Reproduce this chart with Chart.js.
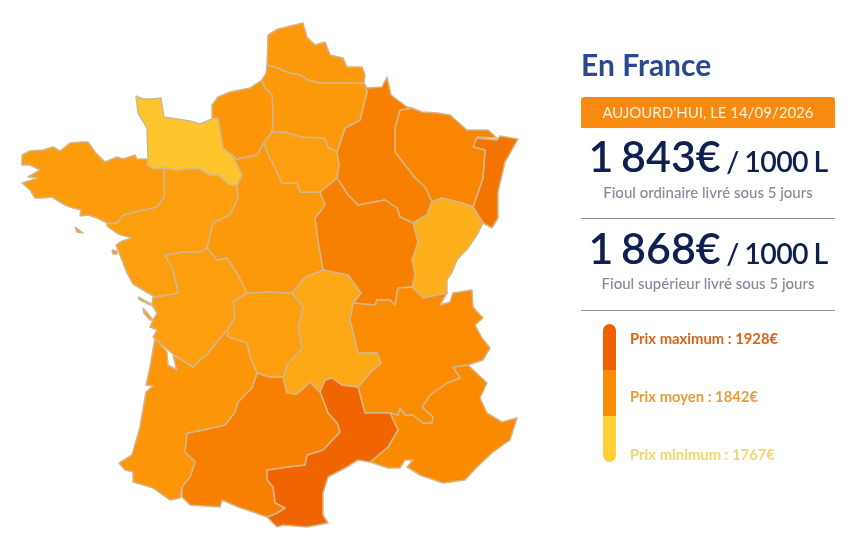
<!DOCTYPE html>
<html lang="fr">
<head>
<meta charset="utf-8">
<title>Prix du fioul en France</title>
<script src="https://cdn.jsdelivr.net/npm/chart.js@4"></script>
<style>
  body { margin: 0; background: #fff; font-family: Lato, sans-serif; }
  #wrap { position: relative; width: 865px; height: 550px; overflow: hidden; }
  #map { position: absolute; left: 0; top: 0; }
  .abs { position: absolute; white-space: nowrap; }
  .title { left: 581px; top: 46px; font-size: 30px; line-height: 36px; font-weight: 700; color: #2b4a8e; }
  .today { left: 581px; top: 97px; width: 254px; height: 31px; line-height: 31px; border-radius: 3px 3px 0 0;
           background: #f98a11; color: #fff3df; font-size: 15px; text-align: center; }
  .price { left: 581px; width: 254px; text-align: center; color: #0e1f50; font-size: 28.5px; line-height: 44px;
           font-weight: 600; letter-spacing: -0.6px; word-spacing: -1px; }
  .price b { font-size: 43px; font-weight: 600; letter-spacing: 0; word-spacing: -3px; }
  .sub { left: 581px; width: 254px; text-align: center; color: #858a99; font-size: 15px; line-height: 18px; font-weight: 500; }
  .rule { left: 581px; width: 254px; height: 1px; background: #8c8c8c; }
  .gauge { left: 603px; top: 324px; width: 13px; height: 138px; border-radius: 7px; overflow: hidden; }
  .gauge div { height: 46px; }
  .key { left: 630px; font-size: 14.8px; line-height: 18px; font-weight: 700; }
</style>
</head>
<body>
<div id="wrap">
  <canvas id="map" width="865" height="550"></canvas>
  <div class="abs title">En France</div>
  <div class="abs today" id="today"></div>
  <div class="abs price" id="price0" style="top:134px"></div>
  <div class="abs sub" id="sub0" style="top:183px"></div>
  <div class="abs rule" style="top:218px"></div>
  <div class="abs price" id="price1" style="top:226px"></div>
  <div class="abs sub" id="sub1" style="top:274px"></div>
  <div class="abs rule" style="top:310px"></div>
  <div class="abs gauge" id="gauge"></div>
  <div class="abs key" id="key0" style="top:329px"></div>
  <div class="abs key" id="key1" style="top:387px"></div>
  <div class="abs key" id="key2" style="top:445px"></div>
</div>
<script>
// prices
const todayLabel = "AUJOURD'HUI, LE 14/09/2026";
const fuelPrices = ["1 843€", "1 868€"];
const fuelLabels = ["Fioul ordinaire livré sous 5 jours", "Fioul supérieur livré sous 5 jours"];
const keyLabels = ["Prix maximum", "Prix moyen", "Prix minimum"];
const keyPrices = [1928, 1842, 1767];
const keyColors = ["#ee6000", "#fb8c00", "#ffd035"];
const keyTextColors = ["#d8641c", "#e89c38", "#f5d868"];

const regionNames = ["Bretagne", "Basse-Normandie", "Haute-Normandie", "Nord-Pas-de-Calais", "Picardie",
  "Île-de-France", "Centre", "Pays de la Loire", "Poitou-Charentes", "Aquitaine", "Limousin", "Auvergne",
  "Midi-Pyrénées", "Languedoc-Roussillon", "Rhône-Alpes", "PACA", "Bourgogne", "Franche-Comté",
  "Champagne-Ardenne", "Lorraine", "Alsace", "Belle-Île", "Noirmoutier", "Île de Ré", "Oléron"];

// estimated from the fill colours
const regionPrices = [1826, 1780, 1832, 1828, 1828, 1822, 1828, 1822, 1822, 1832, 1822, 1810,
  1865, 1918, 1843, 1846, 1866, 1802, 1866, 1856, 1888, 1826, 1822, 1822, 1822];

// outlines in map units
const bretagne = [[22,155],[30,151],[43,150],[53,147],[60,151],[70,143],[82,142],[88,142],[95,152],[105,162],[117,157],[123,159],[135,155],[137,159],[148,159],[147,165],[153,169],[164,168],[164,197],[157,207],[143,210],[123,215],[117,223],[107,223],[97,218],[88,215],[80,216],[81,210],[73,208],[65,205],[52,197],[43,198],[35,198],[30,190],[22,183],[38,178],[28,177],[40,170],[30,165],[22,165]];
const basseNormandie = [[136,96],[143,99],[153,99],[161,98],[162,105],[164,117],[177,119],[190,121],[200,124],[212,119],[218,118],[223,148],[232,155],[242,175],[237,185],[230,185],[218,175],[210,175],[198,168],[177,170],[164,168],[153,169],[147,165],[148,159],[147,128],[138,113]];
const hauteNormandie = [[212,119],[212,105],[218,97],[230,92],[250,88],[262,80],[265,88],[272,95],[273,118],[272,132],[264,142],[257,155],[237,159],[232,155],[223,148],[218,118]];
const nord = [[268,35],[278,29],[303,23],[307,37],[315,45],[325,42],[330,55],[343,58],[347,67],[362,67],[365,75],[364,83],[342,83],[320,83],[308,80],[300,75],[290,73],[275,67],[267,65]];
const picardie = [[267,65],[275,67],[290,73],[300,75],[308,80],[320,83],[342,83],[364,83],[367,92],[360,120],[345,128],[337,152],[328,147],[325,138],[302,137],[285,132],[272,132],[273,118],[272,95],[265,88],[262,80],[266,73]];
const ileDeFrance = [[272,132],[285,132],[302,137],[325,138],[328,147],[337,152],[339,165],[337,178],[320,192],[300,192],[297,183],[282,183],[275,168],[267,152],[264,142]];
const centre = [[232,155],[237,159],[257,155],[264,142],[267,152],[275,168],[282,183],[297,183],[300,192],[320,192],[325,205],[315,218],[318,242],[323,270],[305,277],[292,293],[270,292],[247,293],[237,273],[227,258],[217,260],[207,248],[213,223],[230,215],[238,198],[237,185],[242,175]];
const paysDeLaLoire = [[164,168],[177,170],[198,168],[210,175],[218,175],[230,185],[237,185],[238,198],[230,215],[213,223],[207,248],[200,252],[183,252],[165,255],[173,270],[178,293],[167,295],[155,297],[133,284],[127,273],[120,255],[116,245],[122,241],[132,238],[118,234],[107,226],[107,223],[117,223],[123,215],[143,210],[157,207],[164,197]];
const poitou = [[165,255],[183,252],[200,252],[207,248],[217,260],[227,258],[237,273],[247,293],[233,302],[235,318],[227,330],[220,338],[208,353],[193,367],[182,360],[173,354],[168,350],[153,337],[157,330],[150,327],[153,320],[157,313],[152,305],[153,297],[155,297],[167,295],[178,293],[173,270]];
const aquitaine = [[155,338],[167,352],[168,365],[177,370],[176,367],[173,355],[182,360],[193,367],[208,353],[220,338],[227,330],[228,337],[247,343],[250,357],[257,373],[252,388],[238,402],[235,412],[225,425],[203,430],[187,433],[185,452],[195,462],[190,477],[182,487],[180,498],[170,500],[153,488],[133,482],[133,472],[125,470],[119,463],[132,455],[140,427],[146,392],[153,386],[146,385],[150,367]];
const limousin = [[247,293],[270,292],[292,293],[303,307],[298,327],[302,348],[287,365],[283,377],[270,377],[257,373],[250,357],[247,343],[228,337],[227,330],[235,318],[233,302]];
const auvergne = [[292,293],[305,277],[323,270],[348,275],[361,293],[353,303],[350,320],[358,353],[377,353],[381,363],[370,373],[358,387],[342,385],[332,378],[325,380],[320,392],[310,382],[297,394],[287,393],[283,377],[287,365],[302,348],[298,327],[303,307]];
const midiPyrenees = [[187,433],[203,430],[225,425],[235,412],[238,402],[252,388],[257,373],[270,377],[283,377],[287,393],[297,394],[310,382],[320,392],[328,413],[337,423],[340,432],[323,450],[307,455],[305,465],[287,467],[267,470],[267,480],[273,487],[275,503],[285,508],[277,513],[267,517],[253,512],[238,507],[222,500],[220,507],[190,505],[182,497],[182,487],[190,477],[195,462],[185,452]];
const languedoc = [[320,392],[325,380],[332,378],[342,385],[358,387],[365,413],[390,413],[398,430],[388,447],[370,462],[358,460],[347,467],[328,477],[323,493],[323,515],[328,523],[307,527],[283,525],[277,527],[267,517],[277,513],[285,508],[275,503],[273,487],[267,480],[267,470],[287,467],[305,465],[307,455],[323,450],[340,432],[337,423],[328,413]];
const rhoneAlpes = [[358,387],[370,373],[381,363],[377,353],[358,353],[350,320],[353,303],[375,305],[377,300],[390,300],[395,305],[398,288],[412,287],[423,298],[437,295],[447,293],[440,305],[450,302],[453,293],[472,290],[473,307],[483,318],[475,325],[482,338],[490,348],[483,360],[468,365],[453,367],[460,378],[447,383],[430,395],[422,407],[433,417],[432,423],[423,423],[413,415],[405,415],[400,408],[398,415],[390,413],[365,413]];
const paca = [[453,367],[468,365],[487,383],[480,398],[487,413],[502,422],[517,418],[510,440],[493,452],[477,467],[465,480],[443,483],[420,475],[407,467],[413,460],[405,460],[400,468],[388,468],[370,462],[388,447],[398,430],[390,413],[398,415],[400,408],[405,415],[413,415],[423,423],[432,423],[433,417],[422,407],[430,395],[447,383],[460,378]];
const bourgogne = [[320,192],[337,178],[348,195],[358,205],[385,200],[397,208],[400,217],[413,223],[418,242],[412,260],[415,275],[412,287],[398,288],[395,305],[390,300],[377,300],[375,305],[353,303],[361,293],[348,275],[323,270],[318,242],[315,218],[325,205]];
const francheComte = [[413,223],[427,215],[432,202],[442,198],[462,203],[473,207],[483,223],[477,235],[468,248],[457,260],[452,272],[447,280],[447,293],[437,295],[423,298],[412,287],[415,275],[412,260],[418,242]];
const champagne = [[364,83],[367,88],[382,87],[387,77],[391,95],[407,107],[412,108],[400,110],[395,128],[395,152],[415,178],[425,187],[432,202],[427,215],[413,223],[400,217],[397,208],[385,200],[358,205],[348,195],[337,178],[339,165],[337,152],[345,128],[360,120],[367,92]];
const lorraine = [[400,110],[412,108],[422,112],[438,113],[450,115],[467,130],[475,130],[488,130],[497,138],[477,137],[473,147],[485,150],[483,178],[473,207],[462,203],[442,198],[432,202],[425,187],[415,178],[395,152],[395,128]];
const alsace = [[475,138],[497,140],[500,136],[518,139],[505,162],[498,192],[498,218],[492,228],[483,223],[473,207],[483,178],[485,150],[473,147]];
const belleIle = [[75,227],[83,233],[77,232]];
const noirmoutier = [[112,250],[117,251],[117,254],[113,254]];
const ileDeRe = [[138,297],[153,305],[150,305],[140,300]];
const oleron = [[143,308],[153,320],[150,320],[144,313]];

const regionOutlines = [bretagne, basseNormandie, hauteNormandie, nord, picardie, ileDeFrance, centre,
  paysDeLaLoire, poitou, aquitaine, limousin, auvergne, midiPyrenees, languedoc, rhoneAlpes, paca,
  bourgogne, francheComte, champagne, lorraine, alsace, belleIle, noirmoutier, ileDeRe, oleron];

// ── Colour scale: min → moyen → max ──────────────────────────
function mix(a, b, t) {
  const pa = [1, 3, 5].map((i) => parseInt(a.slice(i, i + 2), 16));
  const pb = [1, 3, 5].map((i) => parseInt(b.slice(i, i + 2), 16));
  const c = pa.map((v, i) => Math.round(v + (pb[i] - v) * t));
  return `rgb(${c[0]},${c[1]},${c[2]})`;
}

function priceColor(p) {
  const [max, avg, min] = keyPrices;
  if (p <= avg) return mix(keyColors[2], keyColors[1], (p - min) / (avg - min));
  return mix(keyColors[1], keyColors[0], (p - avg) / (max - avg));
}

// ── Map ──────────────────────────────────────────────────────
new Chart(document.getElementById("map"), {
  type: "scatter",
  data: {
    datasets: regionOutlines.map((outline, i) => ({
      label: regionNames[i],
      data: outline.concat([outline[0]]).map(([x, y]) => ({ x, y })),
      showLine: true,
      fill: "shape",
      tension: 0,
      backgroundColor: priceColor(regionPrices[i]),
      borderColor: "#d3b68c",
      borderWidth: 1.5,
      borderJoinStyle: "round",
      pointRadius: 0,
      pointHoverRadius: 0,
      clip: false,
    })),
  },
  options: {
    responsive: false,
    animation: false,
    events: [],
    layout: { padding: 0 },
    plugins: { legend: { display: false }, tooltip: { enabled: false } },
    scales: {
      x: { type: "linear", min: 0, max: 865, display: false },
      y: { type: "linear", min: 0, max: 550, reverse: true, display: false },
    },
  },
});

// ── Side panel ───────────────────────────────────────────────
document.getElementById("today").textContent = todayLabel;
fuelPrices.forEach((price, i) => {
  document.getElementById("price" + i).innerHTML = `<b>${price}</b> / 1000 L`;
  document.getElementById("sub" + i).textContent = fuelLabels[i];
});
keyLabels.forEach((label, i) => {
  const key = document.getElementById("key" + i);
  key.textContent = `${label} : ${keyPrices[i]}€`;
  key.style.color = keyTextColors[i];
});
document.getElementById("gauge").innerHTML = keyColors.map((c) => `<div style="background:${c}"></div>`).join("");
</script>
</body>
</html>
